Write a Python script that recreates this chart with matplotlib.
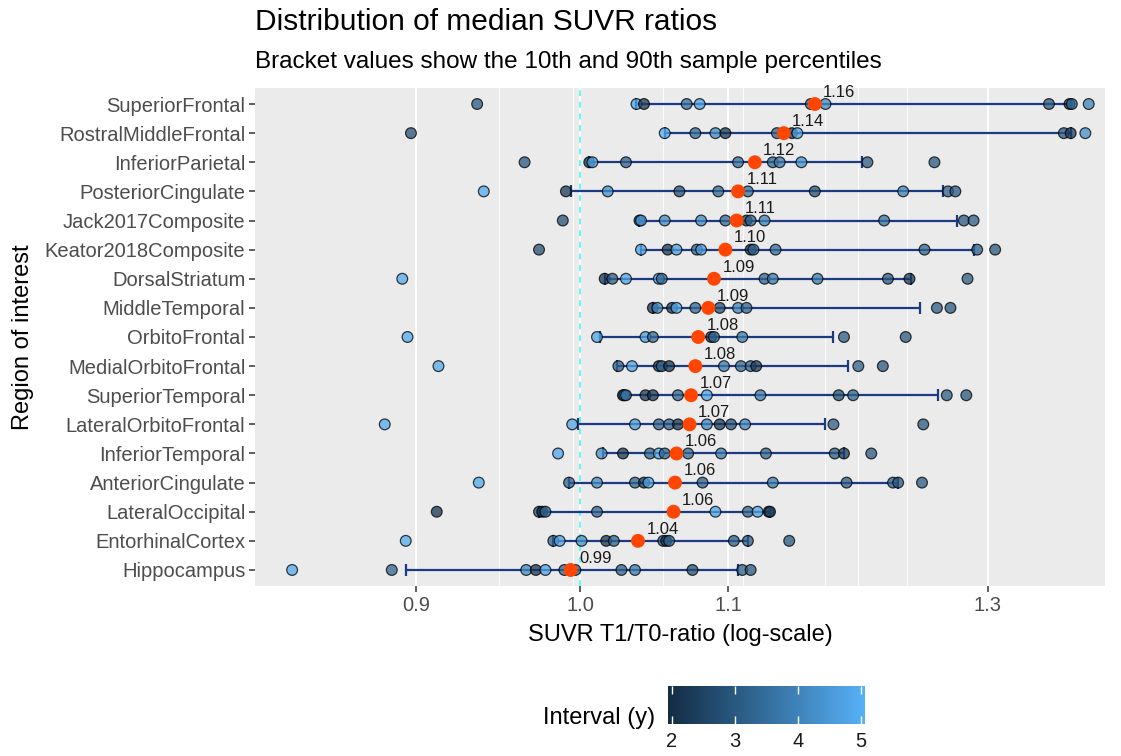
import numpy as np
import matplotlib
matplotlib.use('Agg')
import matplotlib.pyplot as plt
from matplotlib.colors import LinearSegmentedColormap, Normalize
from matplotlib.ticker import NullLocator

plt.rcParams['font.family'] = ['Liberation Sans', 'DejaVu Sans']

# regions, top to bottom
regions = ['SuperiorFrontal', 'RostralMiddleFrontal', 'InferiorParietal', 'PosteriorCingulate',
           'Jack2017Composite', 'Keator2018Composite', 'DorsalStriatum', 'MiddleTemporal',
           'OrbitoFrontal', 'MedialOrbitoFrontal', 'SuperiorTemporal', 'LateralOrbitoFrontal',
           'InferiorTemporal', 'AnteriorCingulate', 'LateralOccipital', 'EntorhinalCortex',
           'Hippocampus']

medians = [1.163, 1.140, 1.119, 1.107, 1.106, 1.098, 1.090, 1.086, 1.079, 1.077, 1.074,
           1.073, 1.064, 1.063, 1.062, 1.038, 0.994]
p10 = [1.037, 1.056, 1.006, 0.994, 1.039, 1.040, 1.016, 1.048, 1.013, 1.024, 1.028,
       0.999, 1.015, 0.993, 0.974, 0.983, 0.894]
p90 = [1.371, 1.371, 1.199, 1.263, 1.274, 1.288, 1.237, 1.244, 1.177, 1.188, 1.259,
       1.171, 1.185, 1.227, 1.130, 1.114, 1.107]

# individual SUVR ratios per region
suvr = [
    [0.936, 1.037, 1.042, 1.071, 1.080, 1.160, 1.171, 1.352, 1.370, 1.372, 1.387],
    [0.897, 1.056, 1.077, 1.091, 1.098, 1.135, 1.146, 1.150, 1.365, 1.371, 1.384],
    [0.965, 1.006, 1.008, 1.030, 1.107, 1.132, 1.137, 1.153, 1.203, 1.256],
    [0.940, 0.991, 1.018, 1.066, 1.093, 1.114, 1.163, 1.231, 1.267, 1.273],
    [0.989, 1.039, 1.040, 1.056, 1.081, 1.098, 1.113, 1.116, 1.126, 1.216, 1.280, 1.288],
    [0.974, 1.040, 1.058, 1.064, 1.078, 1.081, 1.116, 1.118, 1.134, 1.248, 1.291, 1.306],
    [0.892, 1.016, 1.021, 1.030, 1.052, 1.054, 1.126, 1.132, 1.165, 1.219, 1.236, 1.283],
    [1.048, 1.051, 1.061, 1.064, 1.077, 1.094, 1.107, 1.113, 1.258, 1.269],
    [0.895, 1.011, 1.043, 1.048, 1.088, 1.090, 1.110, 1.185, 1.233],
    [0.913, 1.025, 1.034, 1.052, 1.054, 1.059, 1.097, 1.109, 1.116, 1.120, 1.196, 1.215],
    [1.028, 1.029, 1.030, 1.043, 1.048, 1.065, 1.085, 1.123, 1.181, 1.192, 1.266, 1.282],
    [0.882, 0.995, 1.036, 1.052, 1.059, 1.065, 1.085, 1.094, 1.102, 1.112, 1.177, 1.247],
    [0.986, 1.014, 1.028, 1.046, 1.052, 1.056, 1.072, 1.095, 1.127, 1.178, 1.185, 1.206],
    [0.937, 0.993, 1.011, 1.036, 1.042, 1.045, 1.082, 1.132, 1.187, 1.223, 1.227, 1.246],
    [0.912, 0.974, 0.976, 0.978, 1.011, 1.062, 1.091, 1.114, 1.121, 1.129, 1.130],
    [0.894, 0.983, 0.987, 1.001, 1.017, 1.022, 1.055, 1.057, 1.059, 1.104, 1.114, 1.144],
    [0.831, 0.886, 0.966, 0.972, 0.978, 0.990, 0.997, 1.027, 1.036, 1.075, 1.110, 1.116],
]
# interval in years for each point
interval = [
    [3.0, 4.8, 2.3, 3.5, 4.7, 3.3, 4.2, 3.0, 2.4, 3.4, 4.0],
    [2.8, 4.9, 3.4, 4.2, 2.2, 3.3, 2.3, 4.8, 3.0, 2.4, 4.3],
    [3.0, 2.2, 4.8, 3.2, 3.5, 3.4, 3.8, 4.4, 3.1, 3.0],
    [4.9, 2.3, 4.3, 2.8, 3.4, 3.5, 2.8, 4.0, 3.2, 3.0],
    [2.8, 2.4, 4.6, 4.2, 4.2, 3.4, 2.3, 3.3, 4.0, 3.6, 3.0, 3.1],
    [2.8, 4.8, 2.2, 4.7, 3.3, 4.6, 2.3, 3.2, 3.5, 3.3, 3.2, 3.0],
    [4.9, 2.2, 3.2, 4.8, 4.8, 3.3, 3.3, 3.8, 3.8, 3.0, 2.3, 3.1],
    [2.2, 4.2, 2.3, 4.9, 3.4, 2.8, 4.1, 3.3, 3.1, 3.0],
    [4.9, 4.8, 4.7, 3.4, 2.3, 3.3, 3.8, 3.1, 3.0],
    [4.9, 3.2, 4.8, 2.3, 3.3, 2.2, 3.8, 3.4, 3.3, 2.3, 3.2, 3.0],
    [2.2, 4.9, 3.3, 2.3, 2.2, 3.3, 4.8, 3.8, 2.8, 3.3, 3.1, 3.0],
    [4.9, 4.8, 4.6, 3.3, 3.2, 2.2, 4.1, 2.3, 2.8, 4.1, 3.1, 3.0],
    [4.8, 4.3, 2.2, 3.3, 4.8, 3.3, 3.4, 3.8, 3.3, 3.1, 2.4, 3.0],
    [4.9, 3.3, 4.2, 3.3, 2.3, 4.8, 3.2, 3.8, 3.1, 3.2, 3.0, 3.0],
    [2.2, 2.8, 2.2, 3.3, 3.3, 2.5, 4.8, 3.3, 4.8, 2.8, 2.3],
    [4.9, 3.3, 4.8, 4.3, 2.2, 3.3, 3.2, 2.3, 3.3, 3.2, 3.1, 3.0],
    [4.9, 3.3, 4.2, 2.2, 4.8, 3.3, 3.2, 3.2, 3.8, 2.8, 3.2, 3.0],
]

x_ticks = [0.9, 1.0, 1.1, 1.3]
x_ticklabels = ['0.9', '1.0', '1.1', '1.3']
grid_minor = [0.949, 0.9955, 1.0548, 1.1105, 1.1707, 1.1958, 1.234]
cbar_ticks = [2, 3, 4, 5]

cmap = LinearSegmentedColormap.from_list('gg', ['#132B43', '#56B1F7'])
norm = Normalize(vmin=1.94, vmax=5.07)

fig = plt.figure(figsize=(11.21, 7.56), dpi=100)
ax = fig.add_axes([255/1121, 1-586/756, 850/1121, 498/756])
ax.set_facecolor('#EBEBEB')
for s in ax.spines.values():
    s.set_visible(False)

n = len(regions)
ypos = np.arange(n)[::-1]

ax.set_xscale('log')
ax.set_xlim(0.8114, 1.4016)
ax.set_ylim(-0.55, n - 1 + 0.55)

for g in grid_minor:
    ax.axvline(g, color='white', lw=0.6, zorder=0)
for g in x_ticks:
    ax.axvline(g, color='white', lw=1.3, zorder=0)
ax.axvline(1.0, color='#5FF8F8', lw=1.4, ls=(0, (3, 3)), zorder=1)

med = np.array(medians)
ax.errorbar(med, ypos, xerr=[med - np.array(p10), np.array(p90) - med], fmt='none',
            ecolor='#1B3A80', elinewidth=1.6, capsize=4.5, capthick=1.6, zorder=2)

for i in range(n):
    ax.scatter(suvr[i], [ypos[i]] * len(suvr[i]), c=interval[i], cmap=cmap, norm=norm,
               s=60, edgecolors='black', linewidths=0.9, alpha=0.75, zorder=3)

ax.scatter(med, ypos, s=100, color='#FF4500', edgecolors='none', zorder=4)
for i in range(n):
    ax.annotate(f"{medians[i]:.2f}", (medians[i], ypos[i]), xytext=(6, 3),
                textcoords='offset points', ha='left', va='bottom', fontsize=12,
                color='#1a1a1a', zorder=5)

ax.set_yticks(ypos)
ax.set_yticklabels(regions, fontsize=14.5, color='#4D4D4D')
ax.set_xticks(x_ticks)
ax.set_xticklabels(x_ticklabels, fontsize=14.5, color='#4D4D4D')
ax.xaxis.set_minor_locator(NullLocator())
ax.tick_params(axis='both', length=4, width=1.1, color='#333333', pad=3)

ax.set_xlabel('SUVR T1/T0-ratio (log-scale)', fontsize=17, labelpad=7)
ax.set_ylabel('Region of interest', fontsize=17, labelpad=8)

fig.text(255/1121, 1-22/756, 'Distribution of median SUVR ratios', fontsize=21.5,
         va='center', ha='left')
fig.text(255/1121, 1-62/756, 'Bracket values show the 10th and 90th sample percentiles',
         fontsize=17.5, va='center', ha='left')

# colour bar legend
cax = fig.add_axes([668/1121, 1-724/756, 197/1121, 38/756])
sm = plt.cm.ScalarMappable(cmap=cmap, norm=norm)
cb = fig.colorbar(sm, cax=cax, orientation='horizontal')
cb.outline.set_visible(False)
cb.set_ticks(cbar_ticks)
cax.tick_params(axis='x', direction='in', length=6, width=1, color='white', top=True,
                labelsize=14.5, labelcolor='#1a1a1a', pad=6)
fig.text(655/1121, 1-718/756, 'Interval (y)', fontsize=17, ha='right', va='center')

fig.savefig('out.png', dpi=100)
